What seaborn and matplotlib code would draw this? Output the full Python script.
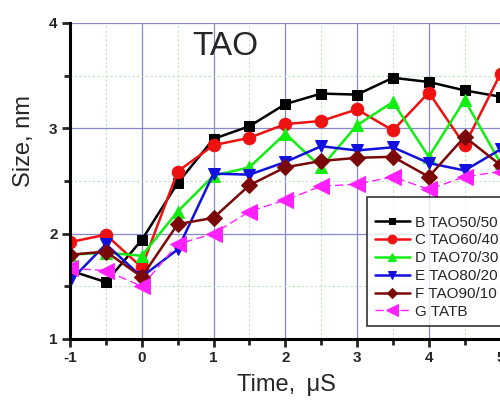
import matplotlib
matplotlib.use("Agg")
import matplotlib.pyplot as plt
import seaborn as sns
import numpy as np
from matplotlib.ticker import MultipleLocator

time = [-1, -0.5, 0, 0.5, 1, 1.5, 2, 2.5, 3, 3.5, 4, 4.5, 5]
b_tao50 = [1.65, 1.54, 1.94, 2.48, 2.90, 3.02, 3.23, 3.33, 3.32, 3.48, 3.44, 3.36, 3.30]
c_tao60 = [1.92, 1.99, 1.68, 2.59, 2.84, 2.91, 3.04, 3.07, 3.18, 2.98, 3.34, 2.84, 3.52]
d_tao70 = [1.80, 1.82, 1.79, 2.21, 2.55, 2.63, 2.95, 2.63, 3.03, 3.25, 2.73, 3.27, 2.67]
e_tao80 = [1.55, 1.90, 1.59, 1.85, 2.57, 2.56, 2.68, 2.83, 2.79, 2.82, 2.67, 2.60, 2.80]
f_tao90 = [1.80, 1.83, 1.59, 2.09, 2.15, 2.46, 2.63, 2.69, 2.72, 2.73, 2.54, 2.92, 2.65]
g_tatb = [1.67, 1.65, 1.50, 1.90, 2.00, 2.21, 2.32, 2.45, 2.47, 2.54, 2.42, 2.54, 2.59]
labels = ["B TAO50/50", "C TAO60/40", "D TAO70/30", "E TAO80/20", "F TAO90/10", "G TATB"]

sns.set_style("white")
plt.rcParams['font.family'] = ['Liberation Sans', 'DejaVu Sans']
plt.rcParams['axes.unicode_minus'] = False

fig = plt.figure(figsize=(5.0, 4.01), dpi=100)
ax = fig.add_axes([70/500, (401-339)/401, 432/500, 316/401])

series = [b_tao50, c_tao60, d_tao70, e_tao80, f_tao90, g_tatb]
colors = ["#000000", "#ee1111", "#11ee11", "#1111dd", "#7a0808", "#ff22ff"]
markers = ["s", "o", "^", "v", "D", "<"]
msizes = [7, 9, 9, 9, 8, 12]
lws = [1.8, 1.8, 1.8, 1.8, 1.8, 1.0]
lss = ["-", "-", "-", "-", "-", (0, (6, 3))]

for vals, c, m, ms, lw, ls, lab in zip(series, colors, markers, msizes, lws, lss, labels):
    sns.lineplot(x=time, y=vals, ax=ax, color=c, marker=m, markersize=ms,
                 markeredgecolor=c, linewidth=lw, linestyle=ls, label=lab,
                 clip_on=True)

ax.set_xlim(-1, 5.02)
ax.set_ylim(1, 4)
ax.xaxis.set_major_locator(MultipleLocator(1))
ax.xaxis.set_minor_locator(MultipleLocator(0.5))
ax.yaxis.set_major_locator(MultipleLocator(1))
ax.yaxis.set_minor_locator(MultipleLocator(0.5))
ax.grid(which="major", color="#8888cc", linewidth=0.9, linestyle="-")
ax.grid(which="minor", color="#bfe3bf", linewidth=0.8, linestyle=(0, (2, 2)))
ax.set_axisbelow(True)

for s in ["top", "right"]:
    ax.spines[s].set_visible(False)
for s in ["left", "bottom"]:
    ax.spines[s].set_linewidth(2.2)
    ax.spines[s].set_color("black")

ax.tick_params(which="major", direction="out", length=6, width=2, labelsize=11,
               bottom=True, left=True, pad=3)
ax.tick_params(which="minor", direction="out", length=4, width=2,
               bottom=True, left=True)
for t in ax.get_xticklabels() + ax.get_yticklabels():
    t.set_fontweight("bold")

ax.set_xlabel("Time, \u2009μS", fontsize=17, labelpad=6)
ax.set_ylabel("Size, nm", fontsize=17)
ax.yaxis.set_label_coords(-0.08, 0.627)
ax.text(0.36, 0.975, "TAO", transform=ax.transAxes, fontsize=24,
        ha="center", va="top")

leg = ax.legend(loc="upper left", bbox_to_anchor=(0.688, 0.449), fontsize=11,
                frameon=True, fancybox=False, edgecolor="black",
                handlelength=2.3, handletextpad=0.3, borderpad=0.5,
                borderaxespad=0, labelspacing=0.25, markerscale=0.7,
                title=" ", title_fontsize=5)
leg.get_frame().set_linewidth(1.2)

fig.savefig("out.png", dpi=100)
